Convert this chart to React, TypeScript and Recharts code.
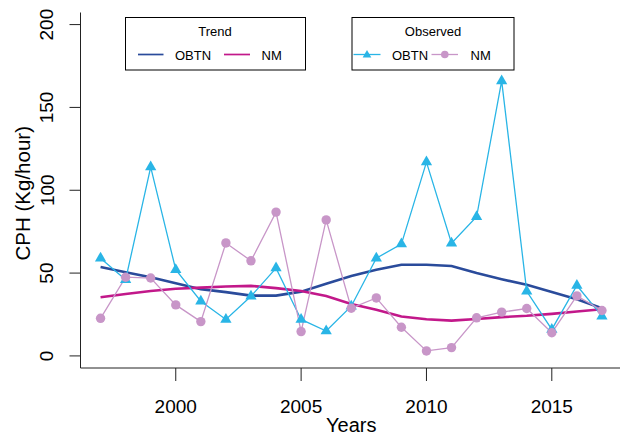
import React from 'react';
import { LineChart, Line, XAxis, YAxis, Legend } from 'recharts';

const years = [1997, 1998, 1999, 2000, 2001, 2002, 2003, 2004, 2005, 2006, 2007, 2008, 2009, 2010, 2011, 2012, 2013, 2014, 2015, 2016, 2017];
const obtnObserved = [59, 46, 114, 52, 33, 22, 36, 53, 22, 15, 30, 59, 67.5, 117, 68, 84, 166, 39, 16, 42.5, 24];
const nmObserved = [22.7, 47.5, 47, 30.8, 20.7, 68.2, 57.4, 86.8, 14.7, 82.1, 28.8, 35, 17.3, 3, 5, 23, 26.4, 28.6, 14, 36.2, 27.4];
const obtnTrend = [53.7, 50.5, 47.5, 43.9, 40.3, 38.5, 36.4, 36.4, 38.8, 43.5, 48.3, 52, 55, 55, 54.3, 50, 46.3, 42.9, 38.6, 34.2, 28.8];
const nmTrend = [35.4, 37.4, 39.2, 40.5, 41.2, 41.9, 42.3, 40.9, 39.2, 36.2, 31.4, 27.8, 23.8, 22.1, 21.3, 22.3, 23.4, 24.2, 25.4, 26.8, 28.2];
const xTicks = [2000, 2005, 2010, 2015];
const yTicks = [0, 50, 100, 150, 200];

const data = years.map((year, i) => ({
  year,
  obtnTrend: obtnTrend[i],
  nmTrend: nmTrend[i],
  obtnObs: obtnObserved[i],
  nmObs: nmObserved[i],
}));

const FONT = '"Liberation Sans", Arial, sans-serif';
const C_OBTN_OBS = '#29B5E6';
const C_NM_OBS = '#C896C8';
const C_OBTN_TREND = '#2A4B9B';
const C_NM_TREND = '#C2188A';
const AX = '#222';

const triPoints = (cx: number, cy: number, r: number) => {
  const hw = r * 0.866;
  return `${cx},${cy - r} ${cx + hw},${cy + r / 2} ${cx - hw},${cy + r / 2}`;
};

const TriangleDot = (props: any) => {
  const { cx, cy, index } = props;
  if (cx == null || cy == null) return <g key={`t${index}`} />;
  return <polygon key={`t${index}`} points={triPoints(cx, cy, 6.5)} fill={C_OBTN_OBS} />;
};

const CircleDot = (props: any) => {
  const { cx, cy, index } = props;
  if (cx == null || cy == null) return <g key={`c${index}`} />;
  return <circle key={`c${index}`} cx={cx} cy={cy} r={4.7} fill={C_NM_OBS} />;
};

const XTick = (props: any) => {
  const { x, y, payload } = props;
  return (
    <text x={x} y={y + 31.7} textAnchor="middle" fontSize={19} fontFamily={FONT} fill="#000">
      {payload.value}
    </text>
  );
};

const YTick = (props: any) => {
  const { x, y, payload } = props;
  const bx = x - 16;
  return (
    <text x={bx} y={y} transform={`rotate(-90, ${bx}, ${y})`} textAnchor="middle" fontSize={19} fontFamily={FONT} fill="#000">
      {payload.value}
    </text>
  );
};

const LegendBoxes = () => (
  <svg width={620} height={80} style={{ display: 'block' }} fontFamily={FONT}>
    <rect x={125.5} y={17.5} width={180} height={52.5} fill="#fff" stroke="#000" strokeWidth={1} />
    <text x={215} y={35.7} textAnchor="middle" fontSize={13} fill="#000">Trend</text>
    <line x1={138} y1={54.5} x2={163.5} y2={54.5} stroke={C_OBTN_TREND} strokeWidth={1.7} />
    <text x={175} y={59.5} fontSize={13} fill="#000">OBTN</text>
    <line x1={224} y1={54.5} x2={250} y2={54.5} stroke={C_NM_TREND} strokeWidth={1.7} />
    <text x={261.5} y={59.5} fontSize={13} fill="#000">NM</text>

    <rect x={352} y={17.5} width={162} height={52.5} fill="#fff" stroke="#000" strokeWidth={1} />
    <text x={433} y={35.7} textAnchor="middle" fontSize={13} fill="#000">Observed</text>
    <line x1={353.5} y1={54.5} x2={380.5} y2={54.5} stroke={C_OBTN_OBS} strokeWidth={1.3} />
    <polygon points={triPoints(367, 55, 5)} fill={C_OBTN_OBS} />
    <text x={392} y={59.5} fontSize={13} fill="#000">OBTN</text>
    <line x1={431.5} y1={54.5} x2={458} y2={54.5} stroke={C_NM_OBS} strokeWidth={1.3} />
    <circle cx={444.8} cy={54.5} r={3.8} fill={C_NM_OBS} />
    <text x={470.5} y={59.5} fontSize={13} fill="#000">NM</text>
  </svg>
);

export default function App() {
  return (
    <div style={{ position: 'absolute', left: 0, top: 0, width: 620, height: 436, overflow: 'hidden', background: '#fff' }}>
      <LineChart width={640} height={436} data={data} margin={{ top: 12.5, right: 18, bottom: 0, left: 0 }}>
        <XAxis
          dataKey="year"
          type="number"
          domain={[1996.2, 2017.8]}
          allowDataOverflow
          ticks={xTicks}
          tick={<XTick />}
          tickSize={13}
          tickMargin={0}
          tickLine={{ stroke: AX }}
          axisLine={{ stroke: AX }}
          height={68}
          label={(p: any) => {
            const vb = p.viewBox || { x: 80.5, width: 541.5 };
            return (
              <text x={vb.x + vb.width / 2} y={432} textAnchor="middle" fontSize={20} fontFamily={FONT} fill="#000">
                Years
              </text>
            );
          }}
        />
        <XAxis
          xAxisId="top"
          orientation="top"
          type="number"
          domain={[1996.2, 2017.8]}
          allowDataOverflow
          tick={false}
          tickLine={false}
          axisLine={{ stroke: AX }}
          height={0}
        />
        <YAxis
          type="number"
          domain={[-7.3, 207.3]}
          allowDataOverflow
          ticks={yTicks}
          tick={<YTick />}
          tickSize={11}
          tickMargin={0}
          tickLine={{ stroke: AX }}
          axisLine={{ stroke: AX }}
          width={80.5}
          label={(p: any) => {
            const vb = p.viewBox || { y: 12.5, height: 355.5 };
            const cy = vb.y + vb.height / 2 + 3;
            return (
              <text x={30} y={cy} transform={`rotate(-90, 30, ${cy})`} textAnchor="middle" fontSize={20.5} fontFamily={FONT} fill="#000">
                CPH (Kg/hour)
              </text>
            );
          }}
        />
        <Legend
          layout="vertical"
          align="center"
          verticalAlign="middle"
          wrapperStyle={{ position: 'absolute', left: 0, top: 0, width: 620, height: 80, margin: 0, padding: 0 }}
          content={() => <LegendBoxes />}
        />
        <Line dataKey="obtnTrend" type="linear" stroke={C_OBTN_TREND} strokeWidth={2.6} dot={false} isAnimationActive={false} />
        <Line dataKey="nmTrend" type="linear" stroke={C_NM_TREND} strokeWidth={2.6} dot={false} isAnimationActive={false} />
        <Line dataKey="obtnObs" type="linear" stroke={C_OBTN_OBS} strokeWidth={1.3} dot={TriangleDot} activeDot={false} isAnimationActive={false} />
        <Line dataKey="nmObs" type="linear" stroke={C_NM_OBS} strokeWidth={1.3} dot={CircleDot} activeDot={false} isAnimationActive={false} />
      </LineChart>
    </div>
  );
}
